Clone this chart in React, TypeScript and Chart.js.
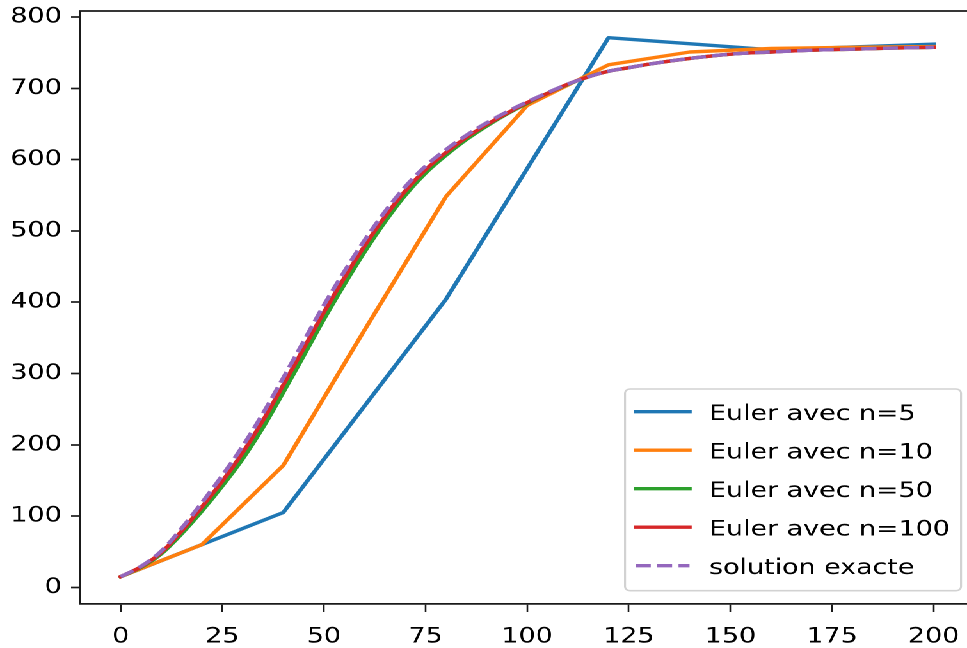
import { useEffect, useRef } from "react";
import { Chart, registerables } from "chart.js";

Chart.register(...registerables);

// ---- data ----
const xEuler5 = [0, 40, 80, 120, 160, 200];
const yEuler5 = [15, 105, 404, 771, 754, 762];

const xEuler10 = [0, 20, 40, 60, 80, 100, 120, 140, 160, 180, 200];
const yEuler10 = [15, 60, 171, 361, 548, 676, 733, 751, 756, 757.5, 758.5];

const xFine = [
  0, 5, 10, 15, 20, 25, 30, 35, 40, 45, 50, 55, 60, 65, 70, 75, 80, 85, 90, 95,
  100, 105, 110, 115, 120, 125, 130, 140, 150, 160, 170, 180, 190, 200,
];
const yEuler50 = [
  15, 28, 47, 75, 107, 142, 180, 224, 273.5, 324.5, 376, 424.5, 470.5, 512.5,
  550, 581, 606, 628, 647, 664, 679, 693, 705.5, 716, 724, 729, 734, 742, 748,
  751, 753.5, 755, 756.5, 757.5,
];
const yEuler100 = [
  15, 29, 49, 79, 113, 149, 189, 234, 284, 335, 386, 434, 479, 520, 556, 586,
  610, 631, 649, 665, 680, 693, 706, 716, 724, 729, 734, 742, 748, 751, 753.5,
  755, 756.5, 757.5,
];
const yExact = [
  15, 29.5, 51, 83, 119, 157, 198, 244, 294, 345, 396, 443, 487, 527, 562, 591,
  614, 634, 651.5, 667, 681, 694, 706, 716, 724, 729, 734, 742, 748, 751,
  753.5, 755, 756.5, 757.5,
];

const xTickValues = [0, 25, 50, 75, 100, 125, 150, 175, 200];
const yTickValues = [0, 100, 200, 300, 400, 500, 600, 700, 800];

const seriesLabels = [
  "Euler avec n=5",
  "Euler avec n=10",
  "Euler avec n=50",
  "Euler avec n=100",
  "solution exacte",
];
const seriesColors = ["#1f77b4", "#ff7f0e", "#2ca02c", "#d62728", "#9467bd"];

// ---- layout / style ----
const SX = 1.28; // horizontal stretch of the reference picture
const W = 770;
const H = 648;
const FONT = "'DejaVu Sans', 'Liberation Sans', sans-serif";
const INK = "#1a1a1a";
const LW = 3.4;
const DASH = [11.7, 5.0];

const toPts = (xs: number[], ys: number[]) => xs.map((x, i) => ({ x, y: ys[i] }));

const framePlugin = {
  id: "mplFrame",
  afterDraw(chart: any) {
    const { ctx, chartArea } = chart;
    ctx.save();
    ctx.strokeStyle = INK;
    ctx.lineWidth = 1.7;
    ctx.beginPath();
    ctx.moveTo(chartArea.left - 0.65, chartArea.top);
    ctx.lineTo(chartArea.right, chartArea.top);
    ctx.stroke();
    ctx.lineWidth = 1.3;
    ctx.beginPath();
    ctx.moveTo(chartArea.right, chartArea.top);
    ctx.lineTo(chartArea.right, chartArea.bottom);
    ctx.stroke();
    ctx.restore();
  },
};

const legendPlugin = {
  id: "mplLegend",
  afterDraw(chart: any) {
    const { ctx, chartArea } = chart;
    const right = chartArea.right - 10.4;
    const bottom = chartArea.bottom - 13.3;
    const width = 262.5;
    const height = 201.7;
    const left = right - width;
    const top = bottom - height;
    ctx.save();
    ctx.beginPath();
    ctx.roundRect(left, top, width, height, 4);
    ctx.fillStyle = "rgba(255,255,255,0.8)";
    ctx.fill();
    ctx.lineWidth = 1.6;
    ctx.strokeStyle = "#d2d2d2";
    ctx.stroke();

    const hx0 = left + 8.4;
    const hx1 = hx0 + 42;
    const tx = hx1 + 15.3;
    const pitch = 38.5;
    chart.data.datasets.forEach((ds: any, i: number) => {
      const hy = top + 22.7 + i * pitch;
      const by = top + 31 + i * pitch;
      ctx.beginPath();
      ctx.strokeStyle = ds.borderColor;
      ctx.lineWidth = LW;
      if (ds.borderDash && ds.borderDash.length) {
        ctx.setLineDash(ds.borderDash);
        ctx.lineCap = "butt";
      } else {
        ctx.setLineDash([]);
        ctx.lineCap = "square";
      }
      ctx.moveTo(hx0, hy);
      ctx.lineTo(hx1, hy);
      ctx.stroke();
      ctx.setLineDash([]);
      ctx.fillStyle = "#000";
      ctx.font = `21px ${FONT}`;
      ctx.textAlign = "left";
      ctx.textBaseline = "alphabetic";
      ctx.fillText(ds.label, tx, by);
    });
    ctx.restore();
  },
};

export default function App() {
  const ref = useRef<HTMLCanvasElement>(null);

  useEffect(() => {
    const canvas = ref.current;
    if (!canvas) return;
    const series = [
      { xs: xEuler5, ys: yEuler5, order: 5, dash: [] as number[], mono: false },
      { xs: xEuler10, ys: yEuler10, order: 4, dash: [] as number[], mono: false },
      { xs: xFine, ys: yEuler50, order: 3, dash: [] as number[], mono: true },
      { xs: xFine, ys: yEuler100, order: 2, dash: [] as number[], mono: true },
      { xs: xFine, ys: yExact, order: 1, dash: DASH, mono: true },
    ];
    const chart = new Chart(canvas, {
      type: "line",
      data: {
        datasets: series.map((s, i) => ({
          label: seriesLabels[i],
          data: toPts(s.xs, s.ys),
          borderColor: seriesColors[i],
          backgroundColor: seriesColors[i],
          borderWidth: LW,
          borderDash: s.dash,
          borderCapStyle: s.dash.length ? "butt" : "square",
          borderJoinStyle: "round",
          pointRadius: 0,
          pointHoverRadius: 0,
          fill: false,
          tension: s.mono ? 0.4 : 0,
          cubicInterpolationMode: s.mono ? "monotone" : "default",
          order: s.order,
        })) as any,
      },
      options: {
        responsive: false,
        animation: false,
        devicePixelRatio: 2,
        layout: { padding: { top: 11, right: W - 761.2, left: 0, bottom: 0 } },
        plugins: {
          legend: { display: false },
          tooltip: { enabled: false },
        },
        events: [],
        scales: {
          x: {
            type: "linear",
            position: "bottom",
            min: -10,
            max: 210,
            afterFit: (scale: any) => {
              scale.height = 44;
              scale.paddingLeft = 0;
              scale.paddingRight = 0;
            },
            afterBuildTicks: (scale: any) => {
              scale.ticks = xTickValues.map((v) => ({ value: v }));
            },
            grid: {
              display: true,
              drawOnChartArea: false,
              drawTicks: true,
              tickLength: 8,
              tickWidth: 1.3,
              tickColor: INK,
            },
            border: { display: true, color: INK, width: 1.7 },
            ticks: {
              padding: 12.2,
              color: "#000",
              font: { family: FONT, size: 21 },
              maxRotation: 0,
              autoSkip: false,
              callback: (v: any) => String(v),
            },
          },
          y: {
            type: "linear",
            position: "left",
            min: -23.3,
            max: 808.5,
            afterFit: (scale: any) => {
              scale.width = 62.5;
              scale.paddingTop = 0;
              scale.paddingBottom = 0;
            },
            afterBuildTicks: (scale: any) => {
              scale.ticks = yTickValues.map((v) => ({ value: v }));
            },
            grid: {
              display: true,
              drawOnChartArea: false,
              drawTicks: true,
              tickLength: 7,
              tickWidth: 1.7,
              tickColor: INK,
            },
            border: { display: true, color: INK, width: 1.3 },
            ticks: {
              padding: 7.3,
              color: "#000",
              font: { family: FONT, size: 21 },
              autoSkip: false,
              callback: (v: any) => String(v),
            },
          },
        },
      },
      plugins: [framePlugin, legendPlugin],
    });
    return () => chart.destroy();
  }, []);

  return (
    <div
      style={{
        position: "fixed",
        left: 0,
        top: 0,
        width: W,
        height: H,
        transform: `scaleX(${SX})`,
        transformOrigin: "0 0",
        background: "#fff",
      }}
    >
      <canvas ref={ref} width={W} height={H} style={{ width: W, height: H, display: "block" }} />
    </div>
  );
}
